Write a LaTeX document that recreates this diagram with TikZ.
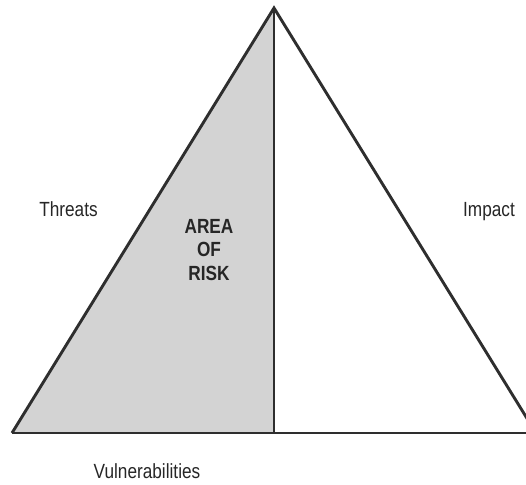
\documentclass[tikz,border=0pt]{standalone}
\usepackage{fontspec}
\setmainfont[FakeStretch=0.84]{Liberation Sans}
\usepackage{tikz}
\usetikzlibrary{positioning}

\definecolor{riskgray}{HTML}{D3D3D3}
\definecolor{edgegray}{HTML}{2E2E2E}

\tikzset{
    side/.style={draw=edgegray, line width=2.9pt, line join=miter},
    label/.style={inner sep=0pt, text=black!85, font=\fontsize{20.5}{23.5}\selectfont},
}

\begin{document}
\begin{tikzpicture}[x=1pt, y=-1pt]
    \useasboundingbox (0,0) rectangle (526,484);
    \begin{scope}
    \clip (0,0) rectangle (526,484);

    % corners of the triangle
    \coordinate (apex) at (274,8);
    \coordinate (left) at (12,433);
    \coordinate (right) at (536,433);
    \coordinate (foot) at (274,433);

    % shaded half
    \fill[riskgray] (apex) -- (left) -- (foot) -- cycle;

    \draw[side] (left) -- (apex) -- (right);
    \draw[side] (left) -- (right);
    \draw[side] (apex) -- (foot);
    \end{scope}

    \node[label, anchor=base] (threats) at (68.5,216) {Threats};
    \node[label, anchor=base] (impact) at (489,216) {Impact};
    \node[label, anchor=base] (vuln) at (147,478) {Vulnerabilities};
    \node[label, anchor=north, align=center, font=\fontsize{20.5}{23.5}\selectfont\bfseries]
        (risk) at (209,219) {AREA\\OF\\RISK};
\end{tikzpicture}
\end{document}
